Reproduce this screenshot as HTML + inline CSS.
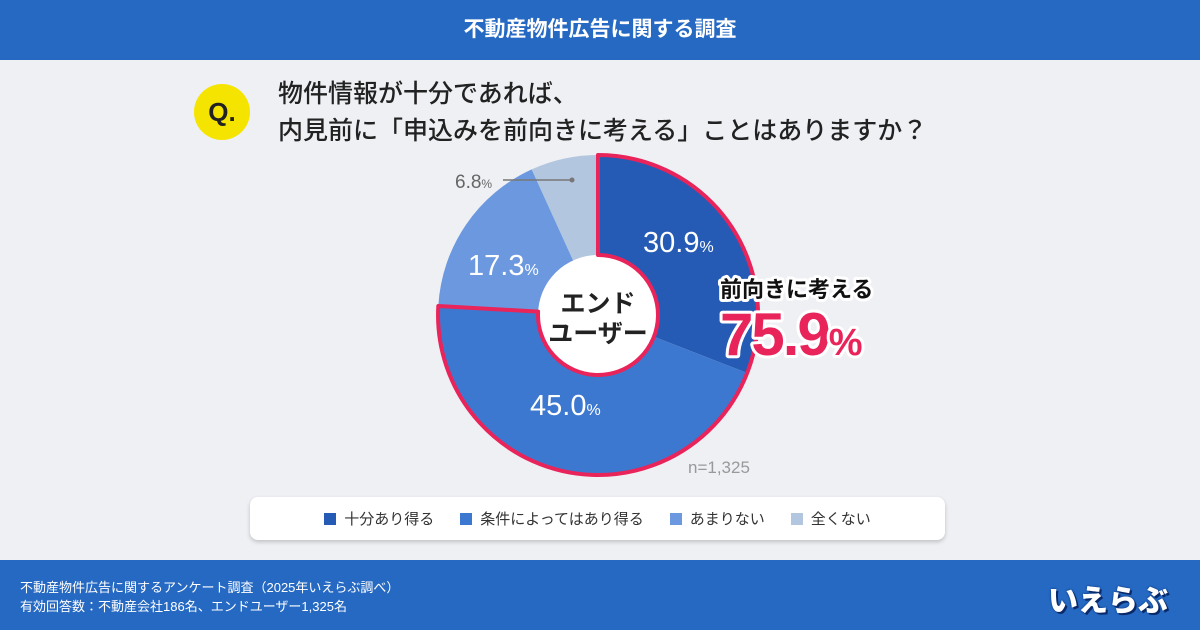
<!DOCTYPE html>
<html><head><meta charset="utf-8"><style>
*{margin:0;padding:0;box-sizing:border-box}
body{width:1200px;height:630px;overflow:hidden;background:#eef0f4;font-family:"Liberation Sans","Noto Sans CJK JP",sans-serif;position:relative}
.hdr{position:absolute;left:0;top:0;width:1200px;height:60px;background:#2569c3;color:#fff;font-weight:bold;font-size:21px;text-align:center;line-height:60px}
.ftr{position:absolute;left:0;top:560px;width:1200px;height:70px;background:#2569c3;color:#fff;font-size:13px}
.q{position:absolute;left:194px;top:84px;width:56px;height:56px;border-radius:50%;background:#f5e400;font-weight:bold;font-size:26px;text-align:center;line-height:56px;color:#222}
.qt{position:absolute;left:278px;top:76px;font-size:25px;line-height:37px;color:#222;font-weight:500}
.leg{position:absolute;left:250px;top:497px;width:695px;height:43px;background:#fff;border-radius:8px;box-shadow:0 2px 4px rgba(0,0,0,.2);font-size:15px;color:#333;display:flex;align-items:center;justify-content:center;gap:26px}
.leg span i{display:inline-block;width:12px;height:12px;margin-right:8px;vertical-align:-1px}
</style></head><body>
<div class="hdr">不動産物件広告に関する調査</div>
<div class="q">Q.</div>
<div class="qt">物件情報が十分であれば、<br>内見前に「申込みを前向きに考える」ことはありますか？</div>
<svg width="1200" height="630" style="position:absolute;left:0;top:0">
<path d="M598,315 L598,155 A160 160 0 0 1 747.1,373 Z" fill="#255bb5"/>
<path d="M598,315 L747.1,373 A160 160 0 0 1 438.3,306 Z" fill="#3d78d0"/>
<path d="M598,315 L438.3,306 A160 160 0 0 1 531.7,169.4 Z" fill="#6b98df"/>
<path d="M598,315 L531.7,169.4 A160 160 0 0 1 598,155 Z" fill="#b2c6e0"/>
<circle cx="598" cy="315" r="60" fill="#fff"/>
<path d="M598,155 A160 160 0 1 1 438.3,306 L538.1,311.6 A60 60 0 1 0 598,255 Z" fill="none" stroke="#e8245a" stroke-width="4" stroke-linejoin="round"/>
<text x="598" y="312" text-anchor="middle" font-size="25" font-weight="bold" fill="#222" font-family="Liberation Sans,Noto Sans CJK JP,sans-serif">エンド</text>
<text x="598" y="342" text-anchor="middle" font-size="25" font-weight="bold" fill="#222" font-family="Liberation Sans,Noto Sans CJK JP,sans-serif">ユーザー</text>
<g fill="#fff" font-family="Liberation Sans,sans-serif">
<text x="643" y="252" font-size="29">30.9<tspan font-size="16">%</tspan></text>
<text x="468" y="275" font-size="29">17.3<tspan font-size="16">%</tspan></text>
<text x="530" y="415" font-size="29">45.0<tspan font-size="16">%</tspan></text>
</g>
<text x="455" y="188" font-size="19" fill="#666" font-family="Liberation Sans,sans-serif">6.8<tspan font-size="12">%</tspan></text>
<line x1="503" y1="180" x2="572" y2="180" stroke="#777" stroke-width="1.5"/><circle cx="572" cy="180" r="2.5" fill="#777"/>
<text x="688" y="473" font-size="17" fill="#999" font-family="Liberation Sans,sans-serif">n=1,325</text>
<g font-family="Liberation Sans,Noto Sans CJK JP,sans-serif" font-weight="bold" stroke="#fff" stroke-width="6" paint-order="stroke" stroke-linejoin="round">
<text x="720" y="297" font-size="22" fill="#111">前向きに考える</text>
<text x="720" y="355" font-size="60" fill="#e8245a" letter-spacing="-2">75.9<tspan font-size="38">%</tspan></text>
</g>
</svg>
<div class="leg"><span><i style="background:#255bb5"></i>十分あり得る</span><span><i style="background:#3d78d0"></i>条件によってはあり得る</span><span><i style="background:#6b98df"></i>あまりない</span><span><i style="background:#b2c6e0"></i>全くない</span></div>
<div class="ftr"><div style="position:absolute;left:20px;top:18px;line-height:19px">不動産物件広告に関するアンケート調査（2025年いえらぶ調べ）<br>有効回答数：不動産会社186名、エンドユーザー1,325名</div>
<div style="position:absolute;left:1048px;top:16px;font-size:30px;font-weight:900;color:#fff;text-shadow:0 0 2px #0a2a6a,2px 2px 0 #0a2a6a">いえらぶ</div></div>
</body></html>
